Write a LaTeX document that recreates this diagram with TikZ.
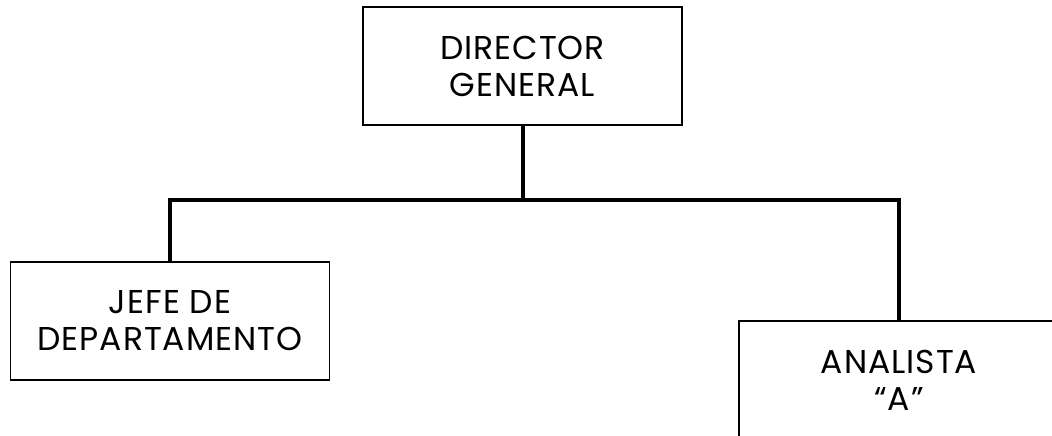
\documentclass[tikz,border=0pt]{standalone}
\usepackage{fontspec}
\setmainfont{Poppins}[LetterSpace=3]
\begin{document}
\begin{tikzpicture}[x=1pt,y=1pt,
  box/.style={draw=black, line width=1.8pt, rectangle, minimum width=319pt, minimum height=118pt, align=center, inner sep=0pt, font=\fontsize{33}{37}\selectfont},
  link/.style={line width=4pt, line cap=butt}]
\clip (0,0) rectangle (1052,-436);
\useasboundingbox (0,0) rectangle (1052,-436);
\node[box] (dg) at (522.5,-66) {DIRECTOR\\GENERAL};
\node[box] (jefe) at (170,-321) {JEFE DE\\DEPARTAMENTO};
\node[box, minimum width=320pt] (an) at (899,-380) {ANALISTA\\``A''};
\coordinate (junc) at (522.5,-200);
\draw[link] (dg.south) -- (junc);
\draw[link] (jefe.north) |- (junc) -| (an.north);
\end{tikzpicture}
\end{document}
